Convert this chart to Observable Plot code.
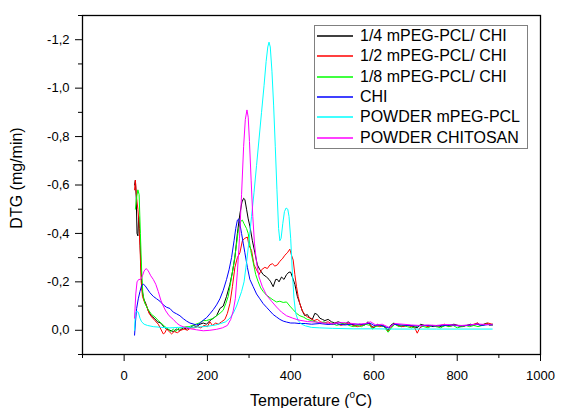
<!DOCTYPE html>
<html>
<head>
<meta charset="utf-8">
<script src="https://cdn.jsdelivr.net/npm/d3@7"></script>
<script src="https://cdn.jsdelivr.net/npm/@observablehq/plot@0.6"></script>
<style>
  html, body { margin: 0; padding: 0; background: #fff; }
  #wrap { position: relative; width: 572px; height: 408px; font-family: "Liberation Sans", Arial, sans-serif; color: #000; }
  #wrap svg { display: block; }
  .ylab { position: absolute; left: 17px; top: 178px; transform: translate(-50%, -50%) rotate(-90deg); font-size: 16px; white-space: nowrap; }
  .xlab { position: absolute; left: 311px; top: 400px; transform: translate(-50%, -50%); font-size: 16px; white-space: nowrap; }
  .xlab sup { font-size: 10px; position: relative; top: -1px; }
  .legend { position: absolute; left: 314px; top: 25px; width: 212px; height: 122px; border: 1px solid #808080; background: #fff; font-size: 16px; }
  .legend .row { position: absolute; left: 2px; height: 20px; display: flex; align-items: center; white-space: nowrap; }
  .legend svg.sw { width: 36px; height: 4px; margin-right: 7px; display: block; }
</style>
</head>
<body>
<div id="wrap"></div>
<script>
// Series names and colours
const seriesNames = ["1/4 mPEG-PCL/ CHI", "1/2 mPEG-PCL/ CHI", "1/8 mPEG-PCL/ CHI", "CHI", "POWDER mPEG-PCL", "POWDER CHITOSAN"];
const seriesColors = ["#000000", "#ff0000", "#00ff00", "#0000ff", "#00ffff", "#ff00ff"];

// Tick values
const xMajorTicks = [0, 200, 400, 600, 800, 1000];
const xMinorTicks = [-100, 100, 300, 500, 700, 900];
const yMajorTicks = [-1.2, -1.0, -0.8, -0.6, -0.4, -0.2, 0.0];
const yMinorTicks = [-1.3, -1.1, -0.9, -0.7, -0.5, -0.3, -0.1, 0.1];

// [Temperature (°C), DTG (mg/min)]
const s14 = [[25,-0.60],[27,-0.62],[29,-0.55],[31,-0.40],[33,-0.39],[35,-0.47],[37,-0.42],[40,-0.28],[43,-0.17],[47,-0.13],[52,-0.11],[58,-0.08],[65,-0.06],[72,-0.05],[80,-0.035],[88,-0.03],[95,-0.015],[102,-0.005],[110,0.0],[118,0.005],[126,-0.005],[134,0.0],[142,-0.01],[150,-0.005],[158,-0.01],[166,-0.02],[174,-0.015],[182,-0.025],[190,-0.03],[198,-0.025],[206,-0.04],[214,-0.05],[222,-0.06],[230,-0.09],[238,-0.10],[246,-0.14],[254,-0.19],[260,-0.24],[266,-0.30],[272,-0.40],[278,-0.48],[283,-0.53],[287,-0.545],[290,-0.54],[294,-0.50],[298,-0.46],[302,-0.43],[308,-0.37],[314,-0.32],[320,-0.27],[326,-0.25],[334,-0.23],[342,-0.22],[348,-0.21],[352,-0.20],[358,-0.18],[364,-0.21],[368,-0.21],[372,-0.20],[378,-0.22],[384,-0.21],[390,-0.23],[396,-0.24],[400,-0.24],[404,-0.22],[410,-0.19],[416,-0.14],[422,-0.11],[428,-0.08],[434,-0.06],[440,-0.065],[446,-0.05],[452,-0.045],[458,-0.07],[464,-0.065],[470,-0.05],[476,-0.045],[482,-0.04],[490,-0.045],[498,-0.035],[506,-0.03],[514,-0.035],[522,-0.03],[530,-0.025],[538,-0.035],[546,-0.025],[556,-0.02],[566,-0.025],[576,-0.02],[586,-0.035],[592,-0.02],[600,-0.01],[608,-0.025],[616,-0.02],[626,-0.015],[634,0.0],[640,-0.02],[648,-0.03],[656,-0.02],[666,-0.015],[676,-0.02],[686,-0.02],[696,-0.015],[704,-0.01],[712,-0.025],[722,-0.02],[732,-0.02],[742,-0.015],[752,-0.02],[762,-0.015],[772,-0.02],[782,-0.02],[792,-0.025],[802,-0.02],[812,-0.015],[822,-0.02],[832,-0.025],[842,-0.02],[848,-0.03],[856,-0.02],[864,-0.025],[872,-0.03],[878,-0.02],[884,-0.025]];

const s12 = [[25,-0.58],[27,-0.62],[29,-0.57],[31,-0.53],[33,-0.50],[35,-0.46],[38,-0.35],[41,-0.20],[44,-0.14],[48,-0.12],[54,-0.10],[60,-0.07],[66,-0.055],[74,-0.04],[82,-0.025],[88,-0.005],[94,0.015],[98,0.01],[102,-0.005],[108,0.005],[114,0.015],[120,0.005],[128,0.01],[136,0.0],[144,-0.005],[152,0.0],[160,-0.01],[168,-0.01],[176,-0.015],[184,-0.01],[192,-0.02],[200,-0.015],[206,-0.035],[212,-0.02],[220,-0.03],[226,-0.025],[234,-0.035],[242,-0.045],[248,-0.07],[254,-0.11],[260,-0.18],[266,-0.26],[272,-0.30],[278,-0.32],[284,-0.37],[290,-0.38],[296,-0.385],[300,-0.35],[306,-0.33],[312,-0.27],[318,-0.25],[324,-0.23],[330,-0.25],[338,-0.26],[344,-0.255],[350,-0.27],[356,-0.275],[362,-0.265],[368,-0.27],[374,-0.285],[380,-0.295],[386,-0.31],[392,-0.32],[398,-0.335],[402,-0.31],[406,-0.29],[410,-0.23],[414,-0.18],[418,-0.14],[422,-0.11],[428,-0.08],[434,-0.065],[440,-0.055],[448,-0.05],[456,-0.04],[464,-0.045],[472,-0.035],[480,-0.03],[490,-0.035],[500,-0.025],[510,-0.03],[520,-0.02],[530,-0.025],[540,-0.03],[550,-0.02],[560,-0.015],[570,-0.02],[580,-0.025],[588,-0.03],[596,-0.01],[604,-0.02],[614,-0.015],[624,-0.02],[634,0.005],[642,-0.015],[650,-0.025],[660,-0.02],[670,-0.015],[680,-0.02],[690,-0.015],[698,-0.01],[704,0.012],[710,-0.01],[720,-0.02],[730,-0.015],[740,-0.02],[750,-0.015],[760,-0.02],[770,-0.025],[780,-0.015],[790,-0.02],[800,-0.02],[810,-0.015],[820,-0.02],[830,-0.02],[840,-0.025],[848,-0.03],[856,-0.02],[866,-0.025],[874,-0.03],[884,-0.025]];

const s18 = [[27,-0.50],[30,-0.55],[33,-0.58],[36,-0.56],[39,-0.40],[42,-0.25],[45,-0.15],[50,-0.11],[58,-0.085],[66,-0.065],[74,-0.055],[82,-0.04],[90,-0.028],[98,-0.015],[106,-0.005],[112,0.005],[118,-0.005],[124,0.005],[132,-0.01],[140,-0.01],[148,-0.015],[156,-0.015],[164,-0.02],[172,-0.025],[180,-0.03],[190,-0.04],[198,-0.04],[206,-0.045],[214,-0.048],[222,-0.06],[230,-0.07],[238,-0.083],[244,-0.11],[250,-0.14],[256,-0.20],[262,-0.26],[268,-0.33],[274,-0.41],[280,-0.45],[284,-0.455],[288,-0.44],[294,-0.42],[298,-0.40],[304,-0.33],[310,-0.28],[316,-0.23],[322,-0.20],[328,-0.175],[334,-0.16],[342,-0.145],[350,-0.135],[358,-0.125],[366,-0.117],[374,-0.12],[382,-0.115],[390,-0.117],[398,-0.10],[406,-0.085],[414,-0.07],[422,-0.06],[430,-0.055],[440,-0.045],[450,-0.04],[460,-0.035],[470,-0.03],[480,-0.035],[490,-0.025],[500,-0.03],[510,-0.02],[520,-0.025],[530,-0.03],[540,-0.02],[550,-0.015],[560,-0.02],[570,-0.015],[580,-0.025],[590,-0.02],[596,-0.005],[604,-0.015],[614,-0.02],[624,-0.015],[634,0.008],[642,-0.01],[650,-0.025],[660,-0.015],[670,-0.02],[680,-0.015],[690,-0.01],[700,-0.015],[710,-0.02],[720,-0.015],[730,-0.01],[740,-0.02],[750,-0.015],[760,-0.01],[770,-0.02],[780,-0.015],[790,-0.02],[800,-0.01],[810,-0.015],[820,-0.02],[830,-0.015],[840,-0.02],[850,-0.015],[860,-0.02],[870,-0.025],[884,-0.02]];

const sChi = [[25,0.02],[27,-0.03],[30,-0.09],[34,-0.13],[38,-0.16],[42,-0.185],[46,-0.19],[50,-0.185],[56,-0.17],[62,-0.155],[70,-0.14],[78,-0.13],[86,-0.12],[94,-0.105],[102,-0.095],[110,-0.09],[118,-0.075],[126,-0.068],[134,-0.06],[142,-0.048],[150,-0.038],[158,-0.03],[166,-0.026],[174,-0.022],[182,-0.028],[190,-0.042],[198,-0.052],[206,-0.068],[214,-0.085],[222,-0.105],[230,-0.13],[238,-0.165],[246,-0.21],[252,-0.25],[258,-0.3],[264,-0.37],[268,-0.42],[272,-0.455],[275,-0.46],[278,-0.44],[282,-0.40],[286,-0.36],[290,-0.32],[296,-0.26],[302,-0.21],[310,-0.18],[318,-0.15],[326,-0.13],[334,-0.11],[342,-0.095],[350,-0.08],[358,-0.065],[366,-0.055],[374,-0.045],[382,-0.038],[390,-0.034],[400,-0.03],[410,-0.03],[420,-0.028],[435,-0.028],[450,-0.025],[470,-0.028],[490,-0.024],[510,-0.027],[530,-0.022],[550,-0.026],[570,-0.024],[590,-0.03],[600,-0.02],[615,-0.022],[634,-0.01],[648,-0.025],[665,-0.022],[685,-0.02],[705,-0.018],[725,-0.02],[745,-0.018],[765,-0.02],[785,-0.022],[805,-0.018],[825,-0.02],[845,-0.025],[860,-0.02],[875,-0.024],[884,-0.022]];

const sPeg = [[25,0.0],[27,-0.07],[30,-0.078],[34,-0.075],[38,-0.05],[42,-0.035],[48,-0.025],[56,-0.02],[70,-0.015],[90,-0.012],[110,-0.01],[130,-0.012],[150,-0.012],[170,-0.013],[190,-0.015],[206,-0.018],[220,-0.022],[232,-0.028],[244,-0.035],[254,-0.05],[262,-0.07],[270,-0.1],[276,-0.13],[282,-0.16],[288,-0.2],[294,-0.28],[300,-0.37],[306,-0.47],[312,-0.57],[318,-0.68],[324,-0.79],[330,-0.9],[336,-1.01],[341,-1.11],[345,-1.17],[348,-1.19],[351,-1.17],[355,-1.07],[359,-0.93],[363,-0.76],[367,-0.58],[371,-0.42],[374,-0.37],[377,-0.38],[381,-0.44],[385,-0.49],[389,-0.505],[393,-0.50],[396,-0.47],[400,-0.38],[404,-0.24],[408,-0.13],[412,-0.07],[418,-0.04],[426,-0.025],[436,-0.018],[450,-0.012],[470,-0.01],[500,-0.008],[550,-0.006],[600,-0.006],[650,-0.005],[700,-0.005],[750,-0.005],[800,-0.005],[850,-0.005],[884,-0.005]];

const sChitosan = [[25,-0.05],[28,-0.15],[31,-0.20],[35,-0.21],[40,-0.21],[44,-0.225],[48,-0.245],[53,-0.255],[58,-0.245],[64,-0.225],[70,-0.21],[76,-0.19],[82,-0.16],[88,-0.125],[94,-0.10],[100,-0.08],[108,-0.06],[118,-0.045],[126,-0.03],[134,-0.02],[146,-0.012],[160,-0.006],[174,-0.002],[190,0.002],[206,0.0],[222,-0.004],[236,-0.01],[248,-0.02],[256,-0.045],[262,-0.08],[267,-0.13],[272,-0.24],[277,-0.38],[282,-0.56],[287,-0.76],[291,-0.87],[295,-0.91],[298,-0.88],[301,-0.78],[305,-0.62],[309,-0.47],[313,-0.36],[318,-0.28],[324,-0.22],[332,-0.18],[342,-0.145],[354,-0.12],[366,-0.096],[378,-0.075],[390,-0.06],[405,-0.05],[420,-0.042],[440,-0.036],[460,-0.034],[480,-0.03],[500,-0.028],[520,-0.032],[540,-0.03],[560,-0.025],[580,-0.028],[592,-0.035],[604,-0.022],[620,-0.025],[636,-0.012],[650,-0.028],[670,-0.025],[690,-0.022],[710,-0.02],[730,-0.022],[750,-0.02],[770,-0.024],[790,-0.022],[810,-0.02],[830,-0.022],[850,-0.026],[866,-0.024],[884,-0.022]];

const seriesData = [s14, s12, s18, sChi, sPeg, sChitosan];

const rows = [];
seriesData.forEach((arr, i) => arr.forEach(([T, v]) => rows.push({s: seriesNames[i], T, v})));

const fmtY = d => d.toFixed(1).replace(".", ",");

const chart = Plot.plot({
  width: 572,
  height: 408,
  marginLeft: 82,
  marginRight: 32,
  marginTop: 15,
  marginBottom: 54,
  style: {fontFamily: "'Liberation Sans', Arial, sans-serif", fontSize: "13px", background: "#fff", color: "#000", overflow: "visible"},
  x: {domain: [-100, 1000]},
  y: {domain: [0.1, -1.3]},
  color: {domain: seriesNames, range: seriesColors},
  marks: [
    Plot.line(rows, {x: "T", y: "v", z: "s", stroke: "s", strokeWidth: 1}),
    Plot.frame({stroke: "#000", strokeWidth: 1.3}),
    Plot.axisX({ticks: xMajorTicks, tickSize: 7, tickPadding: 9, tickFormat: d => String(d), label: null, fontSize: 13}),
    Plot.axisX({ticks: xMinorTicks, tickSize: 4, tickFormat: () => "", label: null}),
    Plot.axisY({ticks: yMajorTicks, tickSize: 7, tickPadding: 6, tickFormat: fmtY, label: null, fontSize: 13}),
    Plot.axisY({ticks: yMinorTicks, tickSize: 4, tickFormat: () => "", label: null})
  ]
});

const wrap = document.getElementById("wrap");
wrap.appendChild(chart);

const ylab = document.createElement("div");
ylab.className = "ylab";
ylab.textContent = "DTG (mg/min)";
wrap.appendChild(ylab);

const xlab = document.createElement("div");
xlab.className = "xlab";
xlab.innerHTML = "Temperature (<sup>o</sup>C)";
wrap.appendChild(xlab);

const svgNS = "http://www.w3.org/2000/svg";
const legend = document.createElement("div");
legend.className = "legend";
seriesNames.forEach((name, i) => {
  const row = document.createElement("div");
  row.className = "row";
  row.style.top = (i * 20.33) + "px";
  const sw = document.createElementNS(svgNS, "svg");
  sw.setAttribute("class", "sw");
  sw.setAttribute("width", "36");
  sw.setAttribute("height", "4");
  const ln = document.createElementNS(svgNS, "line");
  ln.setAttribute("x1", "0");
  ln.setAttribute("x2", "36");
  ln.setAttribute("y1", "2");
  ln.setAttribute("y2", "2");
  ln.setAttribute("stroke", seriesColors[i]);
  ln.setAttribute("stroke-width", "1.5");
  sw.appendChild(ln);
  const t = document.createElement("span");
  t.textContent = name;
  row.appendChild(sw);
  row.appendChild(t);
  legend.appendChild(row);
});
wrap.appendChild(legend);
</script>
</body>
</html>
